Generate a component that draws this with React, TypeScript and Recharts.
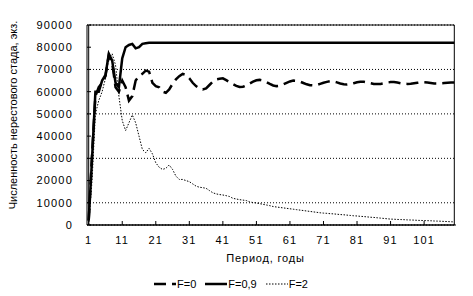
import { CartesianGrid, Legend, Line, LineChart, ReferenceArea, XAxis, YAxis } from 'recharts';

const F0 = [
  2000, 32000, 58000, 62000, 64000, 67000, 76500, 73000, 62000, 60000,
  65000, 62000, 56000, 58000, 65000, 67000, 68000, 69500, 69000, 64000,
  62500, 62000, 60000, 59500, 61000, 63500, 65500, 67000, 68000, 67500,
  66000, 64000, 62500, 61500, 61000, 61500, 63000, 64500, 65500, 65800,
  66000, 65200, 64300, 63400, 62600, 62100, 62200, 62800, 63700, 64500,
  65100, 65300, 65000, 64300, 63500, 62800, 62500, 62700, 63300, 64000,
  64600, 65000, 64900, 64500, 63900, 63300, 62900, 62800, 63000, 63500,
  64000, 64400, 64700, 64600, 64200, 63700, 63300, 63200, 63400, 63800,
  64200, 64500, 64500, 64200, 63800, 63500, 63400, 63500, 63800, 64100,
  64300, 64300, 64100, 63800, 63600, 63500, 63600, 63800, 64000, 64200,
  64200, 64100, 63900, 63700, 63700, 63800, 63900, 64000, 64100, 64100,
];

const F09 = [
  2000, 30000, 60000, 60000, 65000, 67500, 77000, 74000, 64000, 62000,
  75000, 80000, 81000, 81500, 79500, 80000, 81500, 81800, 82000, 82000,
  82000, 82000, 82000, 82000, 82000, 82000, 82000, 82000, 82000, 82000,
  82000, 82000, 82000, 82000, 82000, 82000, 82000, 82000, 82000, 82000,
  82000, 82000, 82000, 82000, 82000, 82000, 82000, 82000, 82000, 82000,
  82000, 82000, 82000, 82000, 82000, 82000, 82000, 82000, 82000, 82000,
  82000, 82000, 82000, 82000, 82000, 82000, 82000, 82000, 82000, 82000,
  82000, 82000, 82000, 82000, 82000, 82000, 82000, 82000, 82000, 82000,
  82000, 82000, 82000, 82000, 82000, 82000, 82000, 82000, 82000, 82000,
  82000, 82000, 82000, 82000, 82000, 82000, 82000, 82000, 82000, 82000,
  82000, 82000, 82000, 82000, 82000, 82000, 82000, 82000, 82000, 82000,
];

const F2 = [
  0, 20000, 50000, 56000, 60000, 66000, 75000, 77000, 72000, 58000,
  47000, 42500, 46000, 49500, 46000, 40000, 34000, 32500, 34500, 32000,
  28000, 26000, 25000, 25500, 27000, 25000, 22000, 20500, 20500, 20000,
  19500, 18500, 17500, 17000, 16800, 16500, 15500, 14500, 14000, 13700,
  13500, 13200, 12800, 12000, 11700, 11400, 11200, 11000, 10400, 10100,
  9900, 9600, 9300, 9000, 8700, 8300, 8100, 7900, 7700, 7500,
  7300, 7100, 6900, 6700, 6500, 6300, 6100, 5900, 5700, 5500,
  5350, 5250, 5100, 5000, 4850, 4700, 4600, 4450, 4300, 4150,
  4050, 3900, 3800, 3650, 3500, 3400, 3250, 3100, 2950, 2800,
  2650, 2600, 2500, 2450, 2400, 2300, 2250, 2200, 2100, 2050,
  2000, 1950, 1900, 1800, 1750, 1700, 1600, 1550, 1450, 1400,
];

const X_TICKS = [1, 11, 21, 31, 41, 51, 61, 71, 81, 91, 101];
const Y_TICKS = [0, 10000, 20000, 30000, 40000, 50000, 60000, 70000, 80000, 90000];

const SERIES = [
  { key: 'f0', name: 'F=0', dash: '12 6', width: 2.5 },
  { key: 'f09', name: 'F=0,9', dash: undefined, width: 2.5 },
  { key: 'f2', name: 'F=2', dash: '1.5 1.5', width: 1 },
];

const data = F0.map((v, i) => ({ period: i + 1, f0: v, f09: F09[i], f2: F2[i] }));

const FONT = '"Liberation Sans", Arial, sans-serif';
const tickStyle = { fontFamily: FONT, fontSize: 11, fill: '#000', letterSpacing: 1.2 };

function LegendContent() {
  return (
    <div style={{ display: 'flex', alignItems: 'flex-start', height: 23, paddingLeft: 154, fontFamily: FONT, fontSize: 11, lineHeight: '14px', boxSizing: 'border-box', paddingTop: 4 }}>
      {SERIES.map((s) => (
        <div key={s.key} style={{ display: 'flex', alignItems: 'center', marginRight: 9 }}>
          <svg width={22} height={6} style={{ marginRight: 1 }}>
            <line x1={0} y1={3} x2={22} y2={3} stroke="#000" strokeWidth={s.width} strokeDasharray={s.dash} />
          </svg>
          <span>{s.name}</span>
        </div>
      ))}
    </div>
  );
}

export default function App() {
  return (
    <div style={{ position: 'absolute', left: 0, top: 0, background: '#fff' }}>
      <LineChart width={473} height={296} data={data} margin={{ top: 25, right: 17, bottom: 0, left: 0 }}>
        <CartesianGrid horizontal vertical={false} stroke="#000" strokeDasharray="1 2" />
        <ReferenceArea y1={0} y2={90000} fill="none" stroke="#000" strokeWidth={1} ifOverflow="visible" />
        <XAxis
          dataKey="period"
          ticks={X_TICKS}
          interval={0}
          height={48}
          padding={{ left: 1.7, right: 1.7 }}
          stroke="#000"
          tickSize={-4}
          tickMargin={15}
          tick={tickStyle}
          label={({ viewBox }: any) => (
            <text x={viewBox.x + viewBox.width / 2 - 6} y={viewBox.y + 37} textAnchor="middle" style={{ fontFamily: FONT, fontSize: 11, letterSpacing: 0.8 }}>
              Период, годы
            </text>
          )}
        />
        <YAxis
          domain={[0, 90000]}
          ticks={Y_TICKS}
          width={87}
          stroke="#000"
          tickSize={-4}
          tickMargin={18}
          tick={tickStyle}
          label={({ viewBox }: any) => (
            <text
              x={13}
              y={viewBox.y + viewBox.height / 2 - 10}
              textAnchor="middle"
              transform={`rotate(-90 13 ${viewBox.y + viewBox.height / 2 - 10})`}
              style={{ fontFamily: FONT, fontSize: 11 }}
              dominantBaseline="central"
            >
              Численность нерестового стада, экз.
            </text>
          )}
        />
        {SERIES.map((s) => (
          <Line
            key={s.key}
            dataKey={s.key}
            name={s.name}
            stroke="#000"
            strokeWidth={s.width}
            strokeDasharray={s.dash}
            dot={false}
            type="linear"
            isAnimationActive={false}
          />
        ))}
        <Legend verticalAlign="bottom" content={LegendContent} />
      </LineChart>
    </div>
  );
}
